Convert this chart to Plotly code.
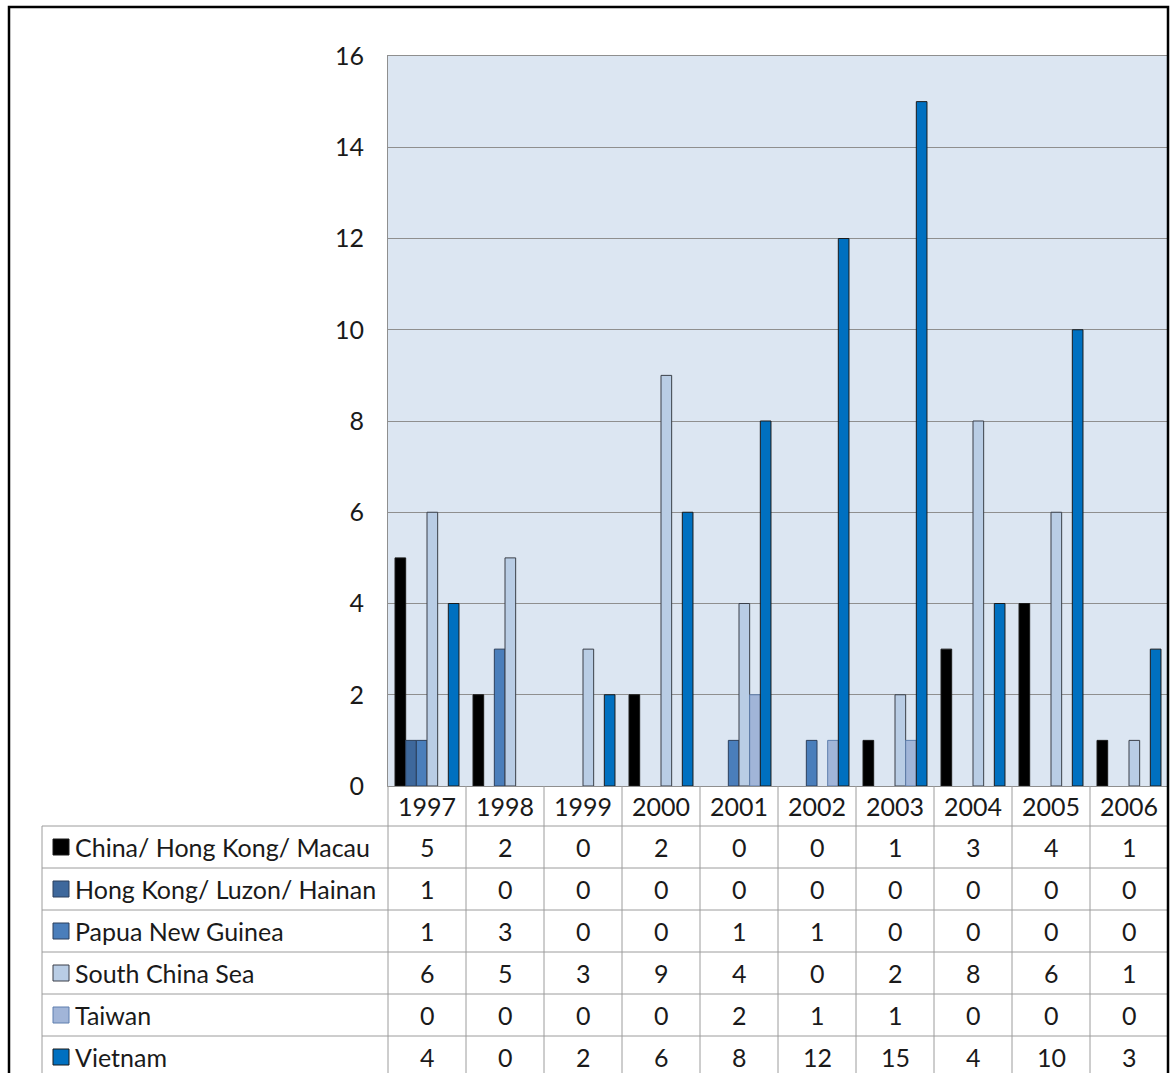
import plotly.graph_objects as go

# Typhoon landfall counts by region, 1997-2006
years = ["1997", "1998", "1999", "2000", "2001", "2002", "2003", "2004", "2005", "2006"]
regions = [
    "China/ Hong Kong/ Macau",
    "Hong Kong/ Luzon/ Hainan",
    "Papua New Guinea",
    "South China Sea",
    "Taiwan",
    "Vietnam",
]
china_hk_macau = [5, 2, 0, 2, 0, 0, 1, 3, 4, 1]
hk_luzon_hainan = [1, 0, 0, 0, 0, 0, 0, 0, 0, 0]
papua_new_guinea = [1, 3, 0, 0, 1, 1, 0, 0, 0, 0]
south_china_sea = [6, 5, 3, 9, 4, 0, 2, 8, 6, 1]
taiwan = [0, 0, 0, 0, 2, 1, 1, 0, 0, 0]
vietnam = [4, 0, 2, 6, 8, 12, 15, 4, 10, 3]

series = [china_hk_macau, hk_luzon_hainan, papua_new_guinea, south_china_sea, taiwan, vietnam]
fills = ["#000000", "#3E689C", "#4A7EBB", "#B9CDE5", "#A1B5D8", "#0070C0"]
outlines = ["#1a1a1a", "#2b3f5c", "#2b3f5c", "#3a3f48", "#5f7fae", "#1a1a1a"]

W, H = 1170, 1073
PL, PR, PT, PB = 388, 1168, 56, 786  # plot area in pixels
FONT = "Lato"
FS = 25
TXT = "#1a1a1a"
GRID = "#8f8f8f"


def px(x):
    return (x - PL) / (PR - PL)


def py(y):
    return (PB - y) / (PB - PT)


fig = go.Figure()
for name, vals, fc, lc in zip(regions, series, fills, outlines):
    fig.add_trace(go.Bar(
        x=years, y=vals, name=name,
        marker=dict(color=fc, line=dict(color=lc, width=[1 if v > 0 else 0 for v in vals])),
        showlegend=False,
    ))

shapes = []
annotations = []

# data table grid
row_top = 826
row_h = 42
n_rows = len(regions)
table_left = 42
table_bottom = row_top + row_h * (n_rows + 0.5)
line = dict(color="#9c9c9c", width=1)
for r in range(n_rows + 1):
    y = row_top + r * row_h
    shapes.append(dict(type="line", xref="paper", yref="paper",
                       x0=px(table_left), x1=px(PR), y0=py(y), y1=py(y), line=line))
shapes.append(dict(type="line", xref="paper", yref="paper",
                   x0=px(table_left), x1=px(table_left), y0=py(row_top), y1=py(table_bottom), line=line))
col_w = (PR - PL) / len(years)
for c in range(len(years) + 1):
    x = PL + c * col_w
    shapes.append(dict(type="line", xref="paper", yref="paper",
                       x0=px(x), x1=px(x), y0=py(PB), y1=py(table_bottom), line=line))

# year header row
for i, yr in enumerate(years):
    annotations.append(dict(x=i, xref="x", y=py((PB + row_top) / 2), yref="paper",
                            text=yr, showarrow=False, xanchor="center", yanchor="middle",
                            font=dict(family=FONT, size=FS, color=TXT)))

# series rows: key, name and values
for r, (name, vals, fc, lc) in enumerate(zip(regions, series, fills, outlines)):
    yc = row_top + r * row_h + row_h / 2
    shapes.append(dict(type="rect", xref="paper", yref="paper",
                       x0=px(53), x1=px(69), y0=py(yc - 8), y1=py(yc + 8),
                       fillcolor=fc, line=dict(color=lc, width=1)))
    annotations.append(dict(x=px(73), xref="paper", y=py(yc), yref="paper",
                            text=name, showarrow=False, xanchor="left", yanchor="middle",
                            font=dict(family=FONT, size=FS, color=TXT)))
    for i, v in enumerate(vals):
        annotations.append(dict(x=i, xref="x", y=py(yc), yref="paper",
                                text=str(v), showarrow=False, xanchor="center", yanchor="middle",
                                font=dict(family=FONT, size=FS, color=TXT)))

# outer chart border
shapes.append(dict(type="rect", xref="paper", yref="paper",
                   x0=px(9), x1=px(1168), y0=py(7), y1=py(1090),
                   line=dict(color="#000000", width=2.5)))

fig.update_layout(
    width=W, height=H,
    margin=dict(l=PL, r=W - PR, t=PT, b=H - PB, pad=0),
    paper_bgcolor="#ffffff",
    plot_bgcolor="#DCE6F2",
    barmode="group",
    bargap=0.18,
    bargroupgap=0,
    shapes=shapes,
    annotations=annotations,
    xaxis=dict(type="category", range=[-0.5, len(years) - 0.5], showticklabels=False,
               showgrid=False, showline=True, linecolor=GRID, linewidth=1, mirror=True,
               ticks="", zeroline=False),
    yaxis=dict(range=[0, 16], dtick=2, tick0=0, showgrid=True, gridcolor=GRID, gridwidth=1,
               showline=True, linecolor=GRID, linewidth=1, mirror=True, ticks="",
               zeroline=False, ticklabelstandoff=18,
               tickfont=dict(family=FONT, size=FS, color=TXT)),
)

fig.write_html("out.html")
